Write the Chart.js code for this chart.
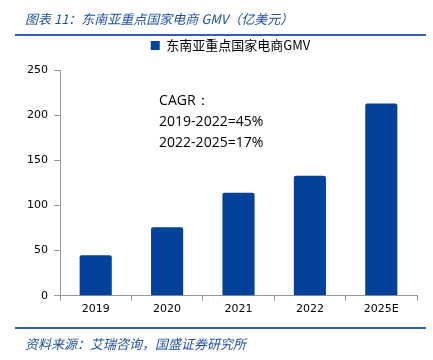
<!DOCTYPE html>
<html>
<head>
<meta charset="utf-8">
<script src="https://cdn.jsdelivr.net/npm/chart.js@4"></script>
<style>
  html, body { margin: 0; padding: 0; background: #fff; }
  #wrap { position: relative; width: 433px; height: 360px; overflow: hidden; }
  #title { position: absolute; left: 25px; top: 9px; font: italic 13px "Noto Sans CJK SC", sans-serif; color: #1f4f9e; white-space: nowrap; }
  #topline { position: absolute; left: 15px; top: 34px; width: 411px; height: 2px; background: #2f62b0; }
  #botline { position: absolute; left: 15px; top: 327px; width: 411px; height: 2px; background: #2f62b0; }
  #source { position: absolute; left: 25px; top: 334px; font: italic 13px "Noto Sans CJK SC", sans-serif; color: #1f4f9e; white-space: nowrap; }
  #c { position: absolute; left: 0; top: 0; }
</style>
</head>
<body>
<div id="wrap">
  <canvas id="c" width="433" height="360"></canvas>
  <div id="title">图表 11：东南亚重点国家电商 GMV（亿美元）</div>
  <div id="topline"></div>
  <div id="botline"></div>
  <div id="source">资料来源：艾瑞咨询，国盛证券研究所</div>
</div>
<script>
const categories = ['2019', '2020', '2021', '2022', '2025E'];
const gmvValues = [45, 76, 114, 133, 213];
const seriesName = '东南亚重点国家电商GMV';
const yTicks = [0, 50, 100, 150, 200, 250];
const cagrLines = ['CAGR：', '2019-2022=45%', '2022-2025=17%'];

const annotationPlugin = {
  id: 'cagrText',
  afterDatasetsDraw(chart) {
    const ctx = chart.ctx;
    const x = chart.scales.x;
    const y = chart.scales.y;
    const left = x.getPixelForValue(1) - 8;
    ctx.save();
    ctx.fillStyle = '#000';
    ctx.font = '14px "Open Sans", sans-serif';
    ctx.textBaseline = 'middle';
    ctx.textAlign = 'left';
    const top = y.getPixelForValue(216);
    cagrLines.forEach((t, i) => ctx.fillText(t, left, top + i * 21));
    ctx.restore();
  }
};

const legendSpacer = {
  id: 'legendSpacer',
  beforeLayout(chart) {
    const lg = chart.legend;
    if (lg && !lg._wrappedFit) {
      const f = lg.fit;
      lg.fit = function () { f.call(this); this.height += 8; };
      lg._wrappedFit = true;
    }
  },
  afterLayout(chart) {
    const lg = chart.legend;
    if (lg) { lg.left += 22; lg.right += 22; }
  }
};

new Chart(document.getElementById('c'), {
  type: 'bar',
  data: {
    labels: categories,
    datasets: [{
      label: seriesName,
      data: gmvValues,
      backgroundColor: '#03419a',
      borderWidth: 0,
      borderRadius: 2,
      borderSkipped: 'bottom',
      categoryPercentage: 1.0,
      barPercentage: 0.45
    }]
  },
  options: {
    responsive: false,
    animation: false,
    devicePixelRatio: 1,
    layout: { padding: { top: 31, right: 16, bottom: 42, left: 0 } },
    plugins: {
      legend: {
        display: true,
        position: 'top',
        labels: {
          boxWidth: 9,
          boxHeight: 9,
          padding: 8,
          color: '#000',
          font: { family: '"Noto Sans CJK SC", sans-serif', size: 13 }
        }
      },
      tooltip: { enabled: false }
    },
    scales: {
      x: {
        grid: { display: true, drawOnChartArea: false, offset: true, tickLength: 5, color: '#999' },
        border: { color: '#999', width: 1 },
        ticks: { color: '#000', font: { family: '"DejaVu Sans", Verdana, sans-serif', size: 11 }, padding: 2 }
      },
      y: {
        min: 0,
        max: 250,
        afterBuildTicks(scale) { scale.ticks = yTicks.map(v => ({ value: v })); },
        afterFit(scale) { scale.width = 60; },
        grid: { display: true, drawOnChartArea: false, tickLength: 6, color: '#999' },
        border: { color: '#999', width: 1 },
        ticks: { color: '#000', font: { family: '"DejaVu Sans", Verdana, sans-serif', size: 11 }, padding: 6 }
      }
    }
  },
  plugins: [annotationPlugin, legendSpacer]
});
</script>
</body>
</html>
